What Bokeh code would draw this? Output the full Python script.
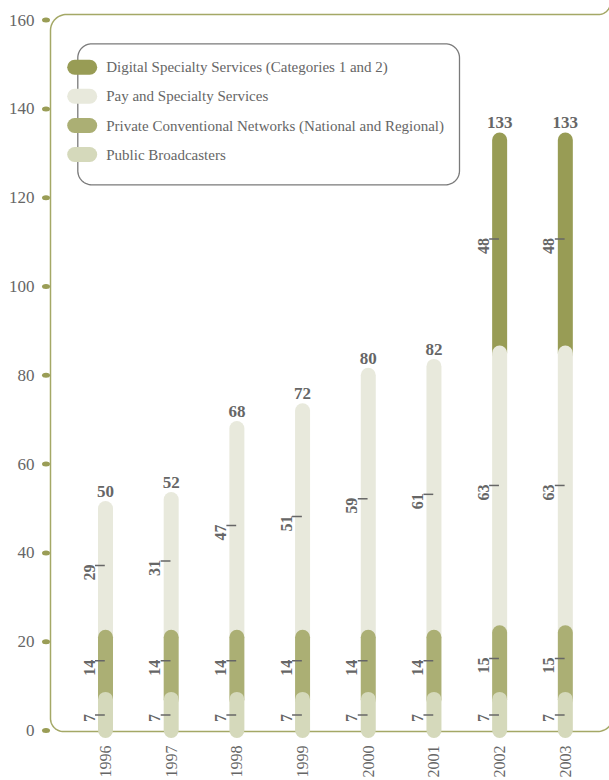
import math
from bokeh.plotting import figure
from bokeh.models import Range1d, FixedTicker
from bokeh.core.properties import value
from bokeh.embed import file_html
from bokeh.resources import INLINE

# ---------------- data ----------------
years = ["1996", "1997", "1998", "1999", "2000", "2001", "2002", "2003"]
public = [7, 7, 7, 7, 7, 7, 7, 7]
private = [14, 14, 14, 14, 14, 14, 15, 15]
pay = [29, 31, 47, 51, 59, 61, 63, 63]
digital = [0, 0, 0, 0, 0, 0, 48, 48]
series_names = [
    "Digital Specialty Services (Categories 1 and 2)",
    "Pay and Specialty Services",
    "Private Conventional Networks (National and Regional)",
    "Public Broadcasters",
]
series_colors = ["#989c55", "#e8e9dc", "#abaf74", "#d5d9bb"]
y_ticks = [0, 20, 40, 60, 80, 100, 120, 140, 160]

# ---------------- layout (pixels) ----------------
W, H = 609, 780
FRAME_L, FRAME_R, FRAME_T, FRAME_B = 38, 609, 0, 741
BAR0_PX, STEP_PX = 105.0, 65.69
ZERO_PX, PPU = 730.0, 4.44
BAR_W = 15
RAD = BAR_W / 2.0
FONT = "Liberation Serif"
GRAY = "#666666"
OLIVE = "#a4a866"


def px2x(px):
    return (px - BAR0_PX) / STEP_PX


def py2y(py):
    return (ZERO_PX - py) / PPU


def dx(px):
    return px / STEP_PX


def dy(px):
    return px / PPU


def arc(cx, cy, r, a0, a1, n=16):
    pts = []
    for k in range(n + 1):
        a = math.radians(a0 + (a1 - a0) * k / n)
        pts.append((cx + r * math.cos(a), cy - r * math.sin(a)))
    return pts


p = figure(
    width=W, height=H,
    x_range=Range1d(px2x(FRAME_L), px2x(FRAME_R)),
    y_range=Range1d(py2y(FRAME_B), py2y(FRAME_T)),
    output_backend="svg", toolbar_location=None,
    min_border_left=FRAME_L, min_border_right=W - FRAME_R,
    min_border_top=FRAME_T, min_border_bottom=H - FRAME_B,
)
p.outline_line_color = None
p.grid.visible = False
p.background_fill_color = "white"
p.border_fill_color = "white"

# axes
ya = p.yaxis[0]
ya.ticker = FixedTicker(ticks=y_ticks)
ya.axis_line_color = None
ya.major_tick_line_color = None
ya.minor_tick_line_color = None
ya.major_tick_in = 0
ya.major_tick_out = 0
ya.major_label_standoff = 4
ya.major_label_text_font = FONT
ya.major_label_text_font_size = "17px"
ya.major_label_text_color = GRAY

xa = p.xaxis[0]
xa.ticker = FixedTicker(ticks=list(range(len(years))))
xa.major_label_overrides = {i: y for i, y in enumerate(years)}
xa.major_label_orientation = math.pi / 2
xa.axis_line_color = None
xa.major_tick_line_color = None
xa.minor_tick_line_color = None
xa.major_tick_in = 0
xa.major_tick_out = 0
xa.major_label_standoff = 4
xa.major_label_text_font = FONT
xa.major_label_text_font_size = "16px"
xa.major_label_text_color = GRAY

# frame line (rounded)
frame_pts = []
frame_pts += arc(598, 2, 12, 0, -90)
frame_pts += arc(66, 30, 16, 90, 180)
frame_pts += arc(63, 718, 13, 180, 270)
frame_pts += arc(597, 715, 16, 270, 360)
p.line([px2x(a) for a, b in frame_pts], [py2y(b) for a, b in frame_pts],
       line_color=OLIVE, line_width=1.5)

# y tick dots
p.ellipse(x=[px2x(45.5)] * len(y_ticks), y=y_ticks, width=8, height=5,
          width_units="screen", height_units="screen",
          fill_color="#9a9d56", line_color=None)

# stacked rounded bars
stack_bottom_up = [public, private, pay, digital]
colors_bottom_up = [series_colors[3], series_colors[2], series_colors[1], series_colors[0]]

n = len(years)
lows = []
highs = []
cum = [0] * n
for s in stack_bottom_up:
    lo = list(cum)
    hi = [cum[i] + s[i] for i in range(n)]
    lows.append(lo)
    highs.append(hi)
    cum = hi
totals = cum

for k in reversed(range(len(stack_bottom_up))):
    s = stack_bottom_up[k]
    idx = [i for i in range(n) if s[i] > 0]
    p.segment(x0=idx, x1=idx, y0=[lows[k][i] for i in idx], y1=[highs[k][i] for i in idx],
              line_color=colors_bottom_up[k], line_width=BAR_W, line_cap="round")

# segment dashes and labels
for k, s in enumerate(stack_bottom_up):
    idx = [i for i in range(n) if s[i] > 0]
    mids = []
    for i in idx:
        m = (lows[k][i] + highs[k][i]) / 2.0
        if lows[k][i] > 0:
            m += dy(RAD)
        mids.append(m)
    p.segment(x0=[i + dx(-10.5) for i in idx], x1=[i + dx(-0.7) for i in idx],
              y0=mids, y1=mids, line_color=GRAY, line_width=1.5)
    p.text(x=[i + dx(-16.5) for i in idx], y=[m + dy(1) for m in mids],
           text=[str(s[i]) for i in idx],
           angle=math.pi / 2, text_align="right", text_baseline="alphabetic",
           text_font=value(FONT), text_font_size="16px", text_font_style="bold",
           text_color=GRAY)

# totals
p.text(x=list(range(n)), y=[t + dy(17) for t in totals], text=[str(t) for t in totals],
       text_align="center", text_baseline="alphabetic",
       text_font=value(FONT), text_font_size="17px", text_font_style="bold",
       text_color=GRAY)

# legend box
L, R, T, B, r = 77.3, 459.0, 43.3, 184.3, 14
box = []
box += arc(L + r, T + r, r, 180, 90)
box += arc(R - r, T + r, r, 90, 0)
box += arc(R - r, B - r, r, 0, -90)
box += arc(L + r, B - r, r, -90, -180)
box.append(box[0])
p.line([px2x(a) for a, b in box], [py2y(b) for a, b in box],
       line_color="#7a7a7a", line_width=1.3)

row_px = [66.7, 95.7, 125.0, 154.0]
p.segment(x0=[px2x(74.2)] * 4, x1=[px2x(89.2)] * 4,
          y0=[py2y(v) for v in row_px], y1=[py2y(v) for v in row_px],
          line_color=series_colors, line_width=BAR_W, line_cap="round")
p.text(x=[px2x(105.7)] * 4, y=[py2y(v) for v in row_px], text=series_names,
       text_align="left", text_baseline="middle",
       text_font=value(FONT), text_font_size="15px", text_color=GRAY)

open("out.html", "w").write(file_html(p, INLINE))
